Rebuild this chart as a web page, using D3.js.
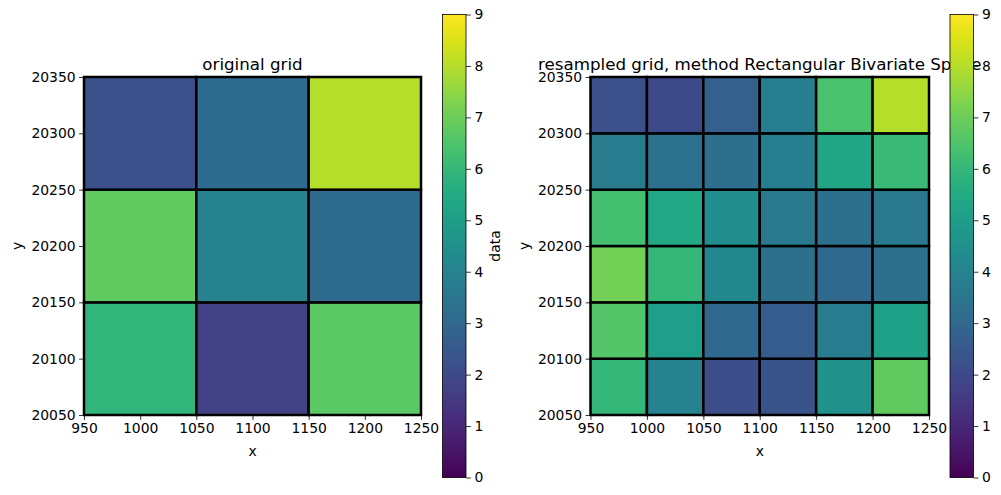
<!DOCTYPE html>
<html>
<head>
<meta charset="utf-8">
<script src="https://cdn.jsdelivr.net/npm/d3@7"></script>
<style>
    body { margin: 0; background: #fff; }
    svg text { font-family: "DejaVu Sans", sans-serif; fill: #000; }
</style>
</head>
<body>
<div id="chart"></div>
<script>
// original grid: cell edges and values (rows from bottom to top)
const origXEdges = [950, 1050, 1150, 1250];
const origYEdges = [20050, 20150, 20250, 20350];
const origValues = [
    [5.9, 1.75, 6.7],
    [6.8, 4.0, 3.1],
    [2.2, 3.1, 8.0]
];

// resampled grid (rows from bottom to top)
const resXEdges = [950, 1000, 1050, 1100, 1150, 1200, 1250];
const resYEdges = [20050, 20100, 20150, 20200, 20250, 20300, 20350];
const resValues = [
    [6.0, 4.0, 2.1, 2.3, 4.5, 6.8],
    [6.6, 5.0, 3.0, 2.6, 3.7, 5.1],
    [7.1, 6.0, 4.2, 3.3, 3.0, 3.3],
    [6.3, 5.4, 4.4, 3.6, 3.3, 3.6],
    [3.7, 3.4, 3.3, 3.8, 5.3, 6.1],
    [2.2, 2.0, 2.7, 3.8, 6.4, 8.0]
];

const xTicksOrig = [950, 1000, 1050, 1100, 1150, 1200, 1250];
const xTicksRes = [950, 1000, 1050, 1100, 1150, 1200, 1250];
const yTicks = [20050, 20100, 20150, 20200, 20250, 20300, 20350];
const cbarTicks = [0, 1, 2, 3, 4, 5, 6, 7, 8, 9];

const titles = ['original grid', 'resampled grid, method Rectangular Bivariate Spline'];

const width = 1001, height = 495;
const fontSize = 13.9;

const svg = d3.select('#chart').append('svg')
    .attr('width', width)
    .attr('height', height);

const color = d3.scaleSequential(d3.interpolateViridis).domain([0, 9]);

// gradient for the colorbars
const grad = svg.append('defs').append('linearGradient')
    .attr('id', 'viridis')
    .attr('x1', 0).attr('y1', 1).attr('x2', 0).attr('y2', 0);
d3.range(0, 1.0001, 0.02).forEach(t => {
    grad.append('stop')
        .attr('offset', t)
        .attr('stop-color', d3.interpolateViridis(t));
});

function drawPanel(opts) {
    const {left, right, top, bottom, xEdges, yEdges, values, xTicks, title, cbarX, showCbarLabel} = opts;

    const x = d3.scaleLinear().domain([950, 1250]).range([left, right]);
    const y = d3.scaleLinear().domain([20050, 20350]).range([bottom, top]);

    const g = svg.append('g');

    const cells = [];
    values.forEach((row, j) => {
        row.forEach((v, i) => {
            cells.push({x0: xEdges[i], x1: xEdges[i + 1], y0: yEdges[j], y1: yEdges[j + 1], v});
        });
    });

    g.selectAll('rect.cell')
        .data(cells)
        .enter().append('rect')
        .attr('class', 'cell')
        .attr('x', d => x(d.x0))
        .attr('y', d => y(d.y1))
        .attr('width', d => x(d.x1) - x(d.x0))
        .attr('height', d => y(d.y0) - y(d.y1))
        .attr('fill', d => color(d.v))
        .attr('stroke', '#000')
        .attr('stroke-width', 2.5);

    // axes
    const xAxis = g.append('g')
        .attr('transform', `translate(0,${bottom})`)
        .call(d3.axisBottom(x).tickValues(xTicks).tickFormat(d3.format('d')).tickSizeOuter(0).tickSize(4.9).tickPadding(3.5));
    const yAxis = g.append('g')
        .attr('transform', `translate(${left},0)`)
        .call(d3.axisLeft(y).tickValues(yTicks).tickFormat(d3.format('d')).tickSizeOuter(0).tickSize(4.9).tickPadding(3.5));

    [xAxis, yAxis].forEach(a => {
        a.select('.domain').remove();
        a.selectAll('line').attr('stroke', '#000').attr('stroke-width', 0.8);
        a.selectAll('text').attr('font-size', fontSize).attr('font-family', '"DejaVu Sans", sans-serif');
    });

    g.append('rect')
        .attr('x', left).attr('y', top)
        .attr('width', right - left).attr('height', bottom - top)
        .attr('fill', 'none').attr('stroke', '#000').attr('stroke-width', 1);

    g.append('text')
        .attr('x', (left + right) / 2)
        .attr('y', bottom + 41)
        .attr('text-anchor', 'middle')
        .attr('font-size', fontSize)
        .text('x');

    g.append('text')
        .attr('transform', `translate(${left - 62},${(top + bottom) / 2}) rotate(-90)`)
        .attr('text-anchor', 'middle')
        .attr('font-size', fontSize)
        .text('y');

    g.append('text')
        .attr('x', (left + right) / 2)
        .attr('y', top - 7)
        .attr('text-anchor', 'middle')
        .attr('font-size', 16.7)
        .text(title);

    // colorbar (drawn after the title so it covers it like in the original)
    const cbTop = 14.5, cbBottom = 477.5, cbW = 23.5;
    const cy = d3.scaleLinear().domain([0, 9]).range([cbBottom, cbTop]);
    const cb = svg.append('g');
    cb.append('rect')
        .attr('x', cbarX).attr('y', cbTop)
        .attr('width', cbW).attr('height', cbBottom - cbTop)
        .attr('fill', 'url(#viridis)')
        .attr('stroke', '#000').attr('stroke-width', 0.8);
    const cbAxis = cb.append('g')
        .attr('transform', `translate(${cbarX + cbW},0)`)
        .call(d3.axisRight(cy).tickValues(cbarTicks).tickFormat(d3.format('d')).tickSizeOuter(0).tickSize(4.9).tickPadding(3.5));
    cbAxis.select('.domain').remove();
    cbAxis.selectAll('line').attr('stroke', '#000').attr('stroke-width', 0.8);
    cbAxis.selectAll('text').attr('font-size', fontSize).attr('font-family', '"DejaVu Sans", sans-serif');

    if (showCbarLabel) {
        cb.append('text')
            .attr('transform', `translate(${cbarX + cbW + 34},${(cbTop + cbBottom) / 2}) rotate(-90)`)
            .attr('text-anchor', 'middle')
            .attr('font-size', fontSize)
            .text('data');
    }
}

drawPanel({
    left: 84, right: 421, top: 77, bottom: 415,
    xEdges: origXEdges, yEdges: origYEdges, values: origValues,
    xTicks: xTicksOrig, title: titles[0], cbarX: 442.5, showCbarLabel: true
});

drawPanel({
    left: 590.5, right: 929, top: 77, bottom: 415,
    xEdges: resXEdges, yEdges: resYEdges, values: resValues,
    xTicks: xTicksRes, title: titles[1], cbarX: 950, showCbarLabel: false
});
</script>
</body>
</html>
